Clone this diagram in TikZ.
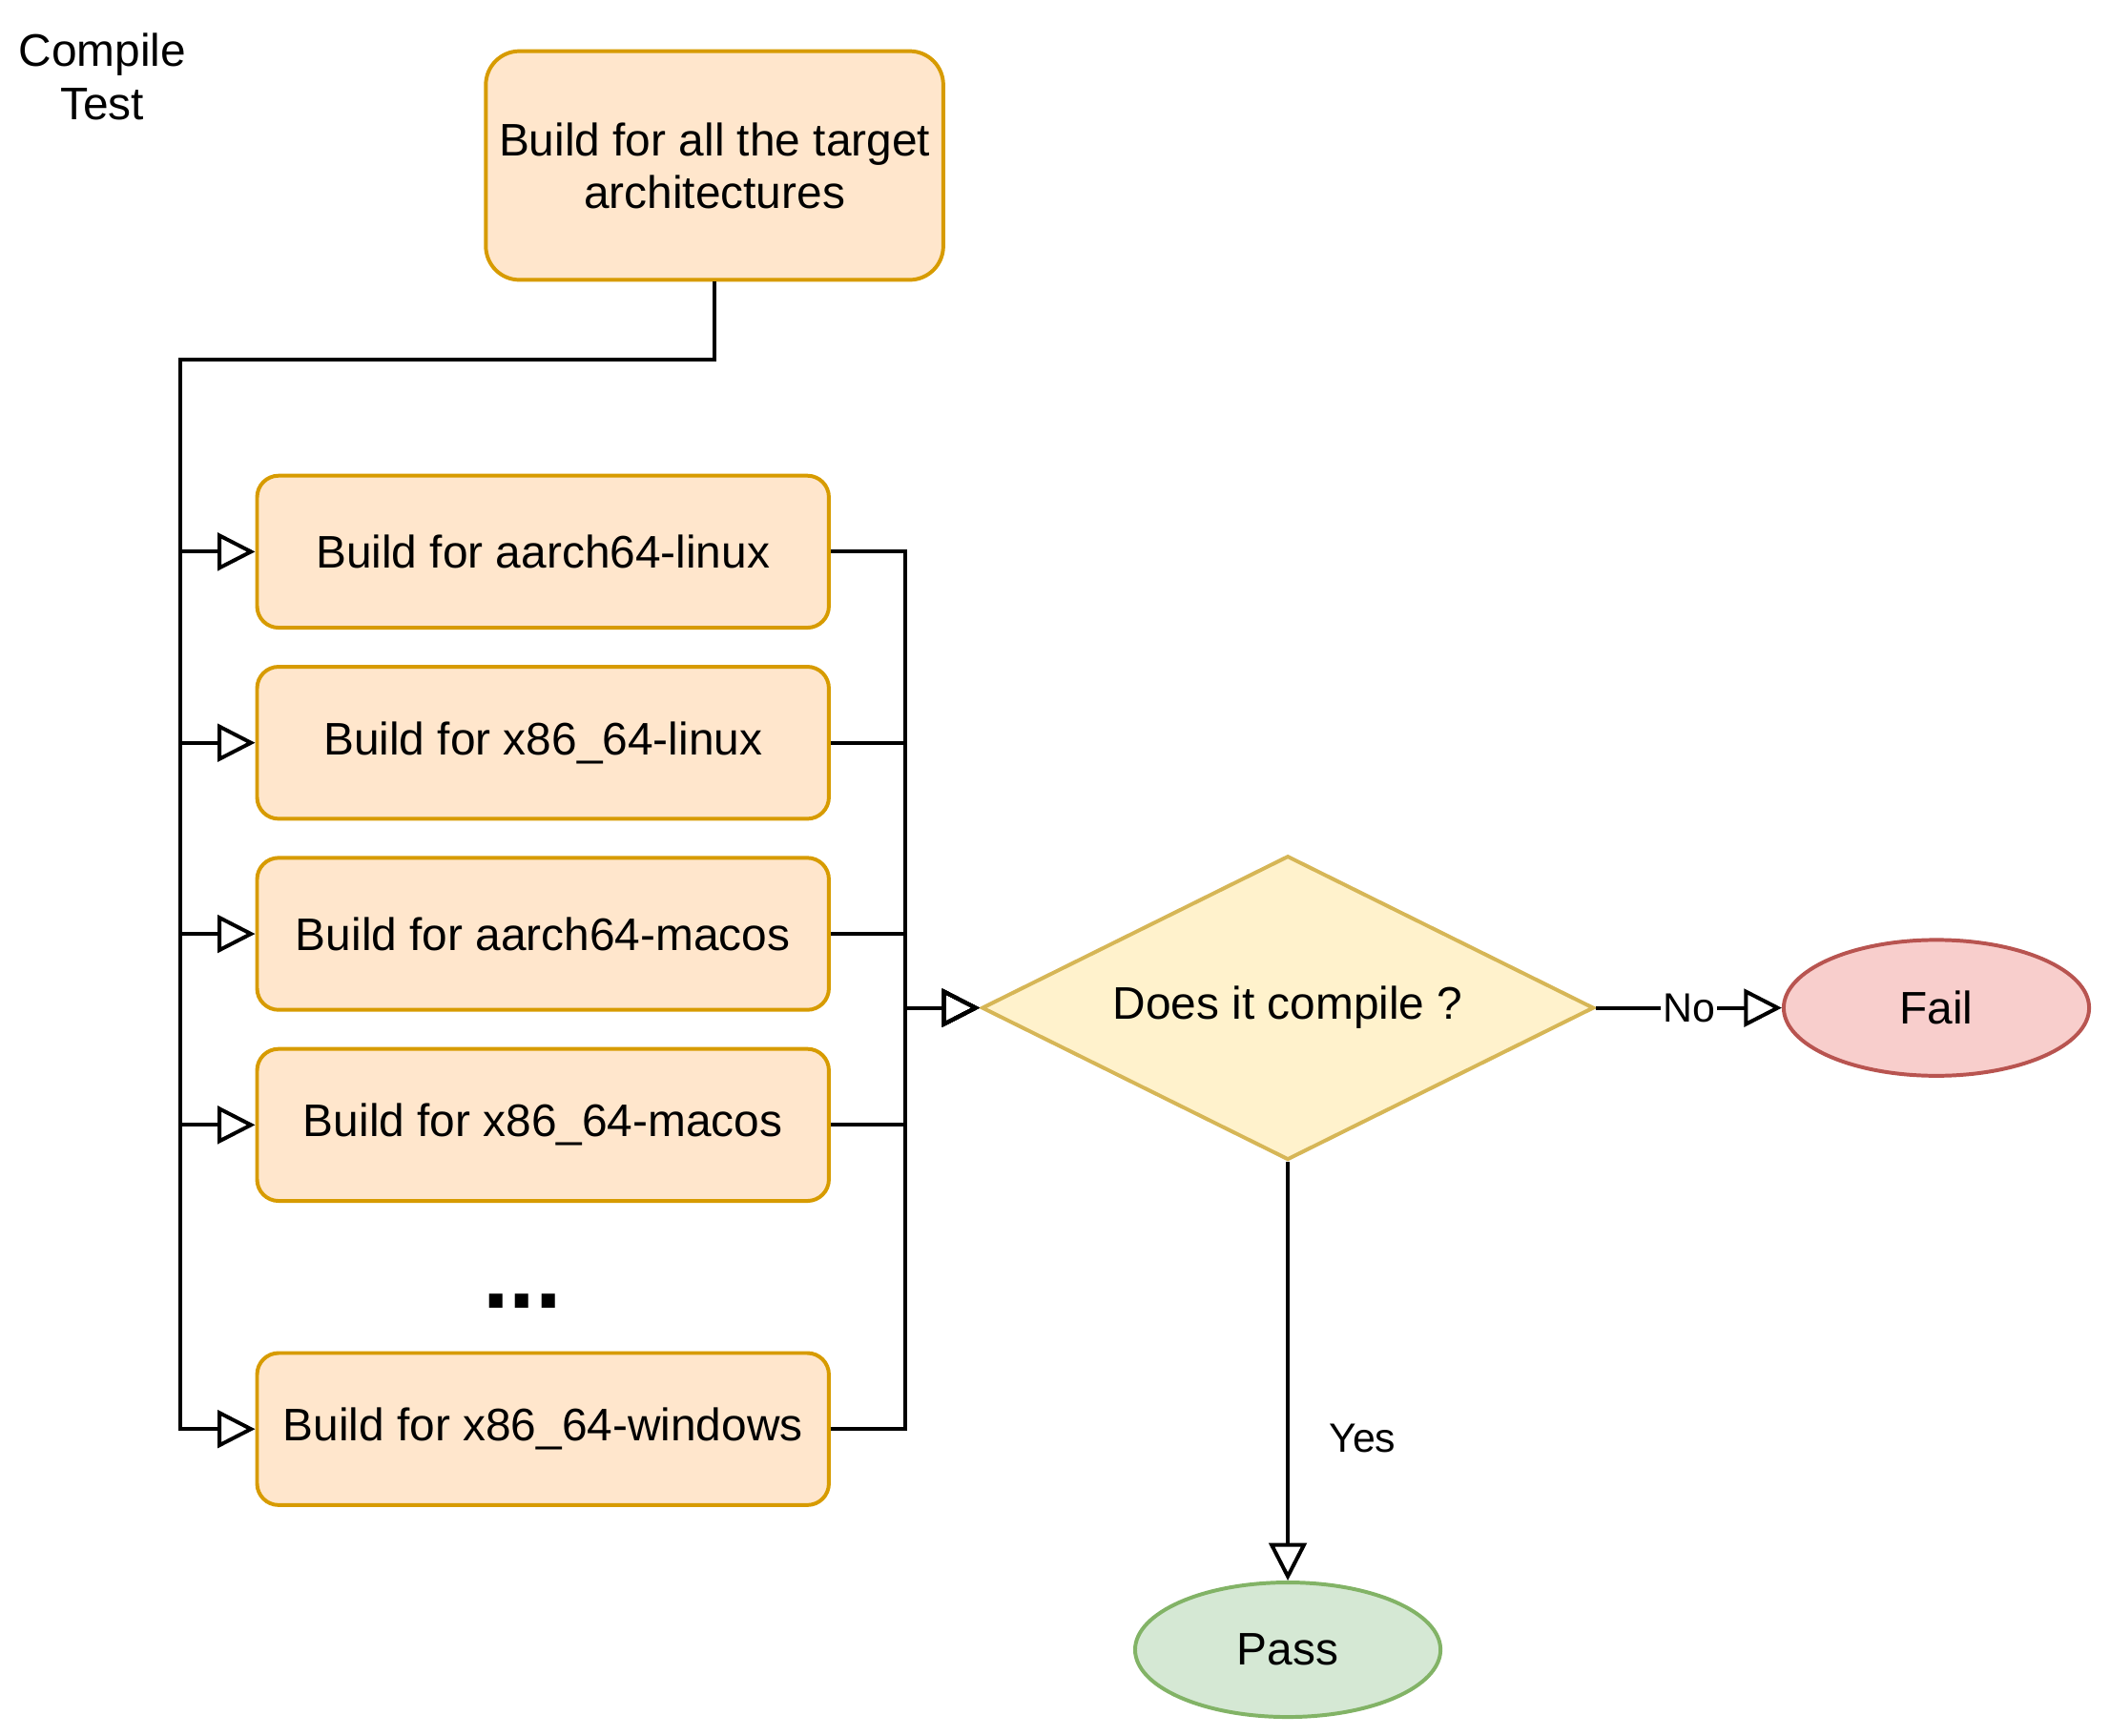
\documentclass[tikz,border=0pt]{standalone}
\usepackage{fontspec}
\setmainfont{Liberation Sans}
\usetikzlibrary{arrows.meta,shapes.geometric}

\definecolor{buildfill}{HTML}{FFE6CC}
\definecolor{buildline}{HTML}{D79B00}
\definecolor{askfill}{HTML}{FFF2CC}
\definecolor{askline}{HTML}{D6B656}
\definecolor{failfill}{HTML}{F8CECC}
\definecolor{failline}{HTML}{B85450}
\definecolor{passfill}{HTML}{D5E8D4}
\definecolor{passline}{HTML}{82B366}

\begin{document}
\begin{tikzpicture}[x=0.02cm, y=-0.02cm, line width=1.6pt,
  txt/.style={font=\fontsize{19.3}{22.2}\selectfont},
  lbl/.style={font=\fontsize{17.3}{20}\selectfont, inner sep=1pt},
  build/.style={txt, draw=buildline, fill=buildfill, rounded corners=0.32cm, minimum width=8.5cm, minimum height=2.26cm},
  flow/.style={-{Triangle[open, length=0.56cm, width=0.56cm]}}]
\useasboundingbox (0,0) rectangle (1568,1290);
\node[txt, align=center] (title) at (76,57) {Compile\\Test};
\node[build, rounded corners=0.5cm, minimum width=6.8cm, minimum height=3.4cm, align=center] (top) at (531,123) {Build for all the target\\architectures};
\node[build] (b1) at (403.5,410) {Build for aarch64-linux};
\node[build] (b2) at (403.5,552) {Build for x86\_64-linux};
\node[build] (b3) at (403.5,694) {Build for aarch64-macos};
\node[build] (b4) at (403.5,836) {Build for x86\_64-macos};
\node[font=\fontsize{40}{48}\selectfont\bfseries, anchor=base, inner sep=0pt] (more) at (388,972) {...};
\node[build] (b5) at (403.5,1062) {Build for x86\_64-windows};
\node[txt, shape=diamond, draw=askline, fill=askfill, aspect=2, inner sep=0pt, minimum width=9.1cm, minimum height=4.52cm] (ask) at (957,749) {Does it compile ?};
\node[txt, shape=ellipse, draw=failline, fill=failfill, inner sep=0pt, minimum width=4.54cm, minimum height=2.02cm] (fail) at (1439,749) {Fail};
\node[txt, shape=ellipse, draw=passline, fill=passfill, inner sep=0pt, minimum width=4.54cm, minimum height=2cm] (pass) at (957,1226) {Pass};
\coordinate (split) at (134,267);
\coordinate (merge) at (673,749);
% fan out to every target
\draw[flow] (top.south) |- (split) |- (b1.west);
\draw[flow] (top.south) |- (split) |- (b2.west);
\draw[flow] (top.south) |- (split) |- (b3.west);
\draw[flow] (top.south) |- (split) |- (b4.west);
\draw[flow] (top.south) |- (split) |- (b5.west);
% gather the results
\draw[flow] (b1.east) -| (merge) -- (ask.west);
\draw[flow] (b2.east) -| (merge) -- (ask.west);
\draw[flow] (b3.east) -| (merge) -- (ask.west);
\draw[flow] (b4.east) -| (merge) -- (ask.west);
\draw[flow] (b5.east) -| (merge) -- (ask.west);
\draw[flow] (ask.east) -- node[lbl, fill=white] (no) {No} (fail.west);
\draw[flow] (ask.south) -- node[lbl, pos=0.66, anchor=west, xshift=0.55cm] (yes) {Yes} (pass.north);
\end{tikzpicture}
\end{document}
